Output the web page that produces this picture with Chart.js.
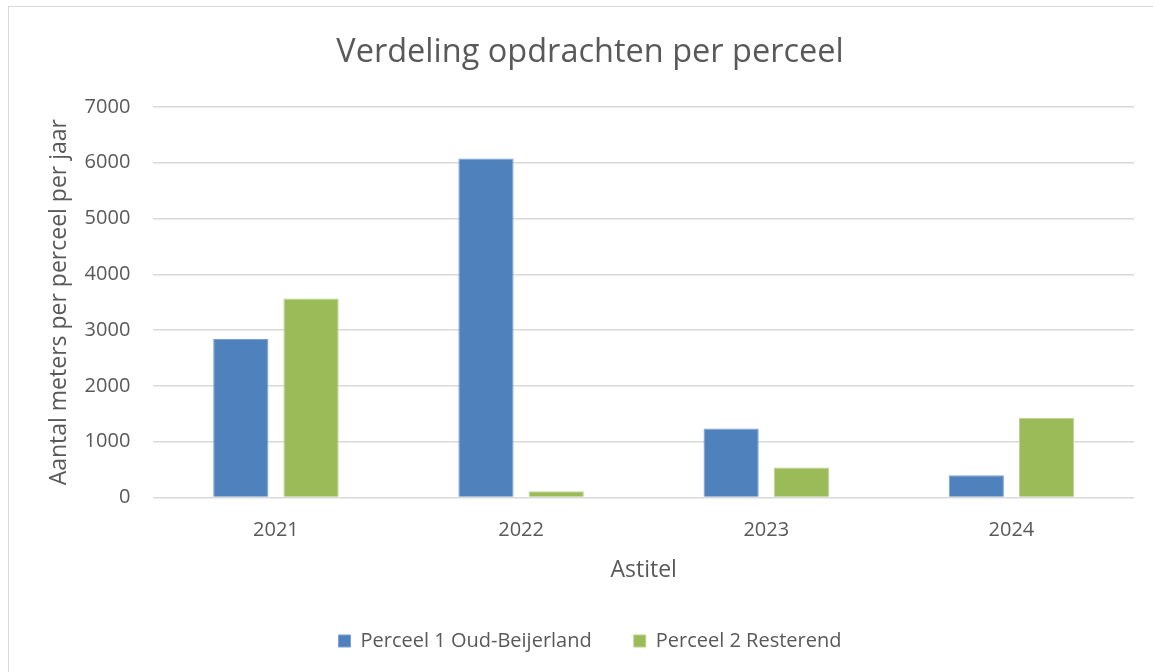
<!DOCTYPE html>
<html>
<head>
<meta charset="utf-8">
<script src="https://cdn.jsdelivr.net/npm/chart.js@4.4.1/dist/chart.umd.min.js"></script>
<style>
  html, body { margin: 0; padding: 0; background: #fff; overflow: hidden; }
  #frame {
    position: absolute; left: 8px; top: 6px;
    width: 1160px; height: 680px;
    border: 1px solid #d9d9d9; box-sizing: border-box;
  }
  #wrap { position: absolute; left: 1px; top: 1px; width: 1144px; height: 665px; }
</style>
</head>
<body>
<div id="frame"><div id="wrap"><canvas id="chart"></canvas></div></div>
<script>
const years = ["2021", "2022", "2023", "2024"];
const perceel1 = [2840, 6075, 1235, 395];
const perceel2 = [3565, 110, 535, 1425];
const yTicks = [0, 1000, 2000, 3000, 4000, 5000, 6000, 7000];

const TEXT = "#595959";
const FONT = "'Open Sans', sans-serif";

new Chart(document.getElementById("chart"), {
  type: "bar",
  data: {
    labels: years,
    datasets: [
      {
        label: "Perceel 1 Oud-Beijerland",
        data: perceel1,
        backgroundColor: "#4f81bd",
        borderColor: "#7ba0d1",
        borderWidth: 1,
        barPercentage: 0.786,
        categoryPercentage: 0.573,
      },
      {
        label: "Perceel 2 Resterend",
        data: perceel2,
        backgroundColor: "#9bbb59",
        borderColor: "#bcd48e",
        borderWidth: 1,
        barPercentage: 0.786,
        categoryPercentage: 0.573,
      },
    ],
  },
  options: {
    responsive: true,
    maintainAspectRatio: false,
    animation: false,
    layout: { padding: { left: 36, right: 20, top: 25, bottom: 12 } },
    plugins: {
      title: {
        display: true,
        text: "Verdeling opdrachten per perceel",
        color: TEXT,
        font: { family: FONT, size: 32.5, weight: "normal" },
        padding: { top: 0, bottom: 35 },
      },
      legend: {
        position: "bottom",
        labels: {
          color: TEXT,
          font: { family: FONT, size: 20 },
          boxWidth: 12,
          boxHeight: 12,
          padding: 42,
        },
      },
      tooltip: { enabled: false },
    },
    scales: {
      x: {
        grid: { display: false, drawTicks: false },
        border: { display: false },
        ticks: { color: TEXT, font: { family: FONT, size: 20 }, padding: 21, maxRotation: 0 },
        title: {
          display: true,
          text: "Astitel",
          color: TEXT,
          font: { family: FONT, size: 23 },
          padding: { top: -7, bottom: 5 },
        },
      },
      y: {
        min: 0,
        max: 7000,
        afterBuildTicks: (axis) => { axis.ticks = yTicks.map((v) => ({ value: v })); },
        grid: { color: "#d9d9d9", lineWidth: 1.5, drawTicks: false },
        border: { display: false },
        ticks: {
          color: TEXT,
          font: { family: FONT, size: 20 },
          padding: 23,
          callback: (val) => String(val),
        },
        title: {
          display: true,
          text: "Aantal meters per perceel per jaar",
          color: TEXT,
          font: { family: FONT, size: 23 },
          padding: { top: 0, bottom: -12 },
        },
      },
    },
  },
});
</script>
</body>
</html>
